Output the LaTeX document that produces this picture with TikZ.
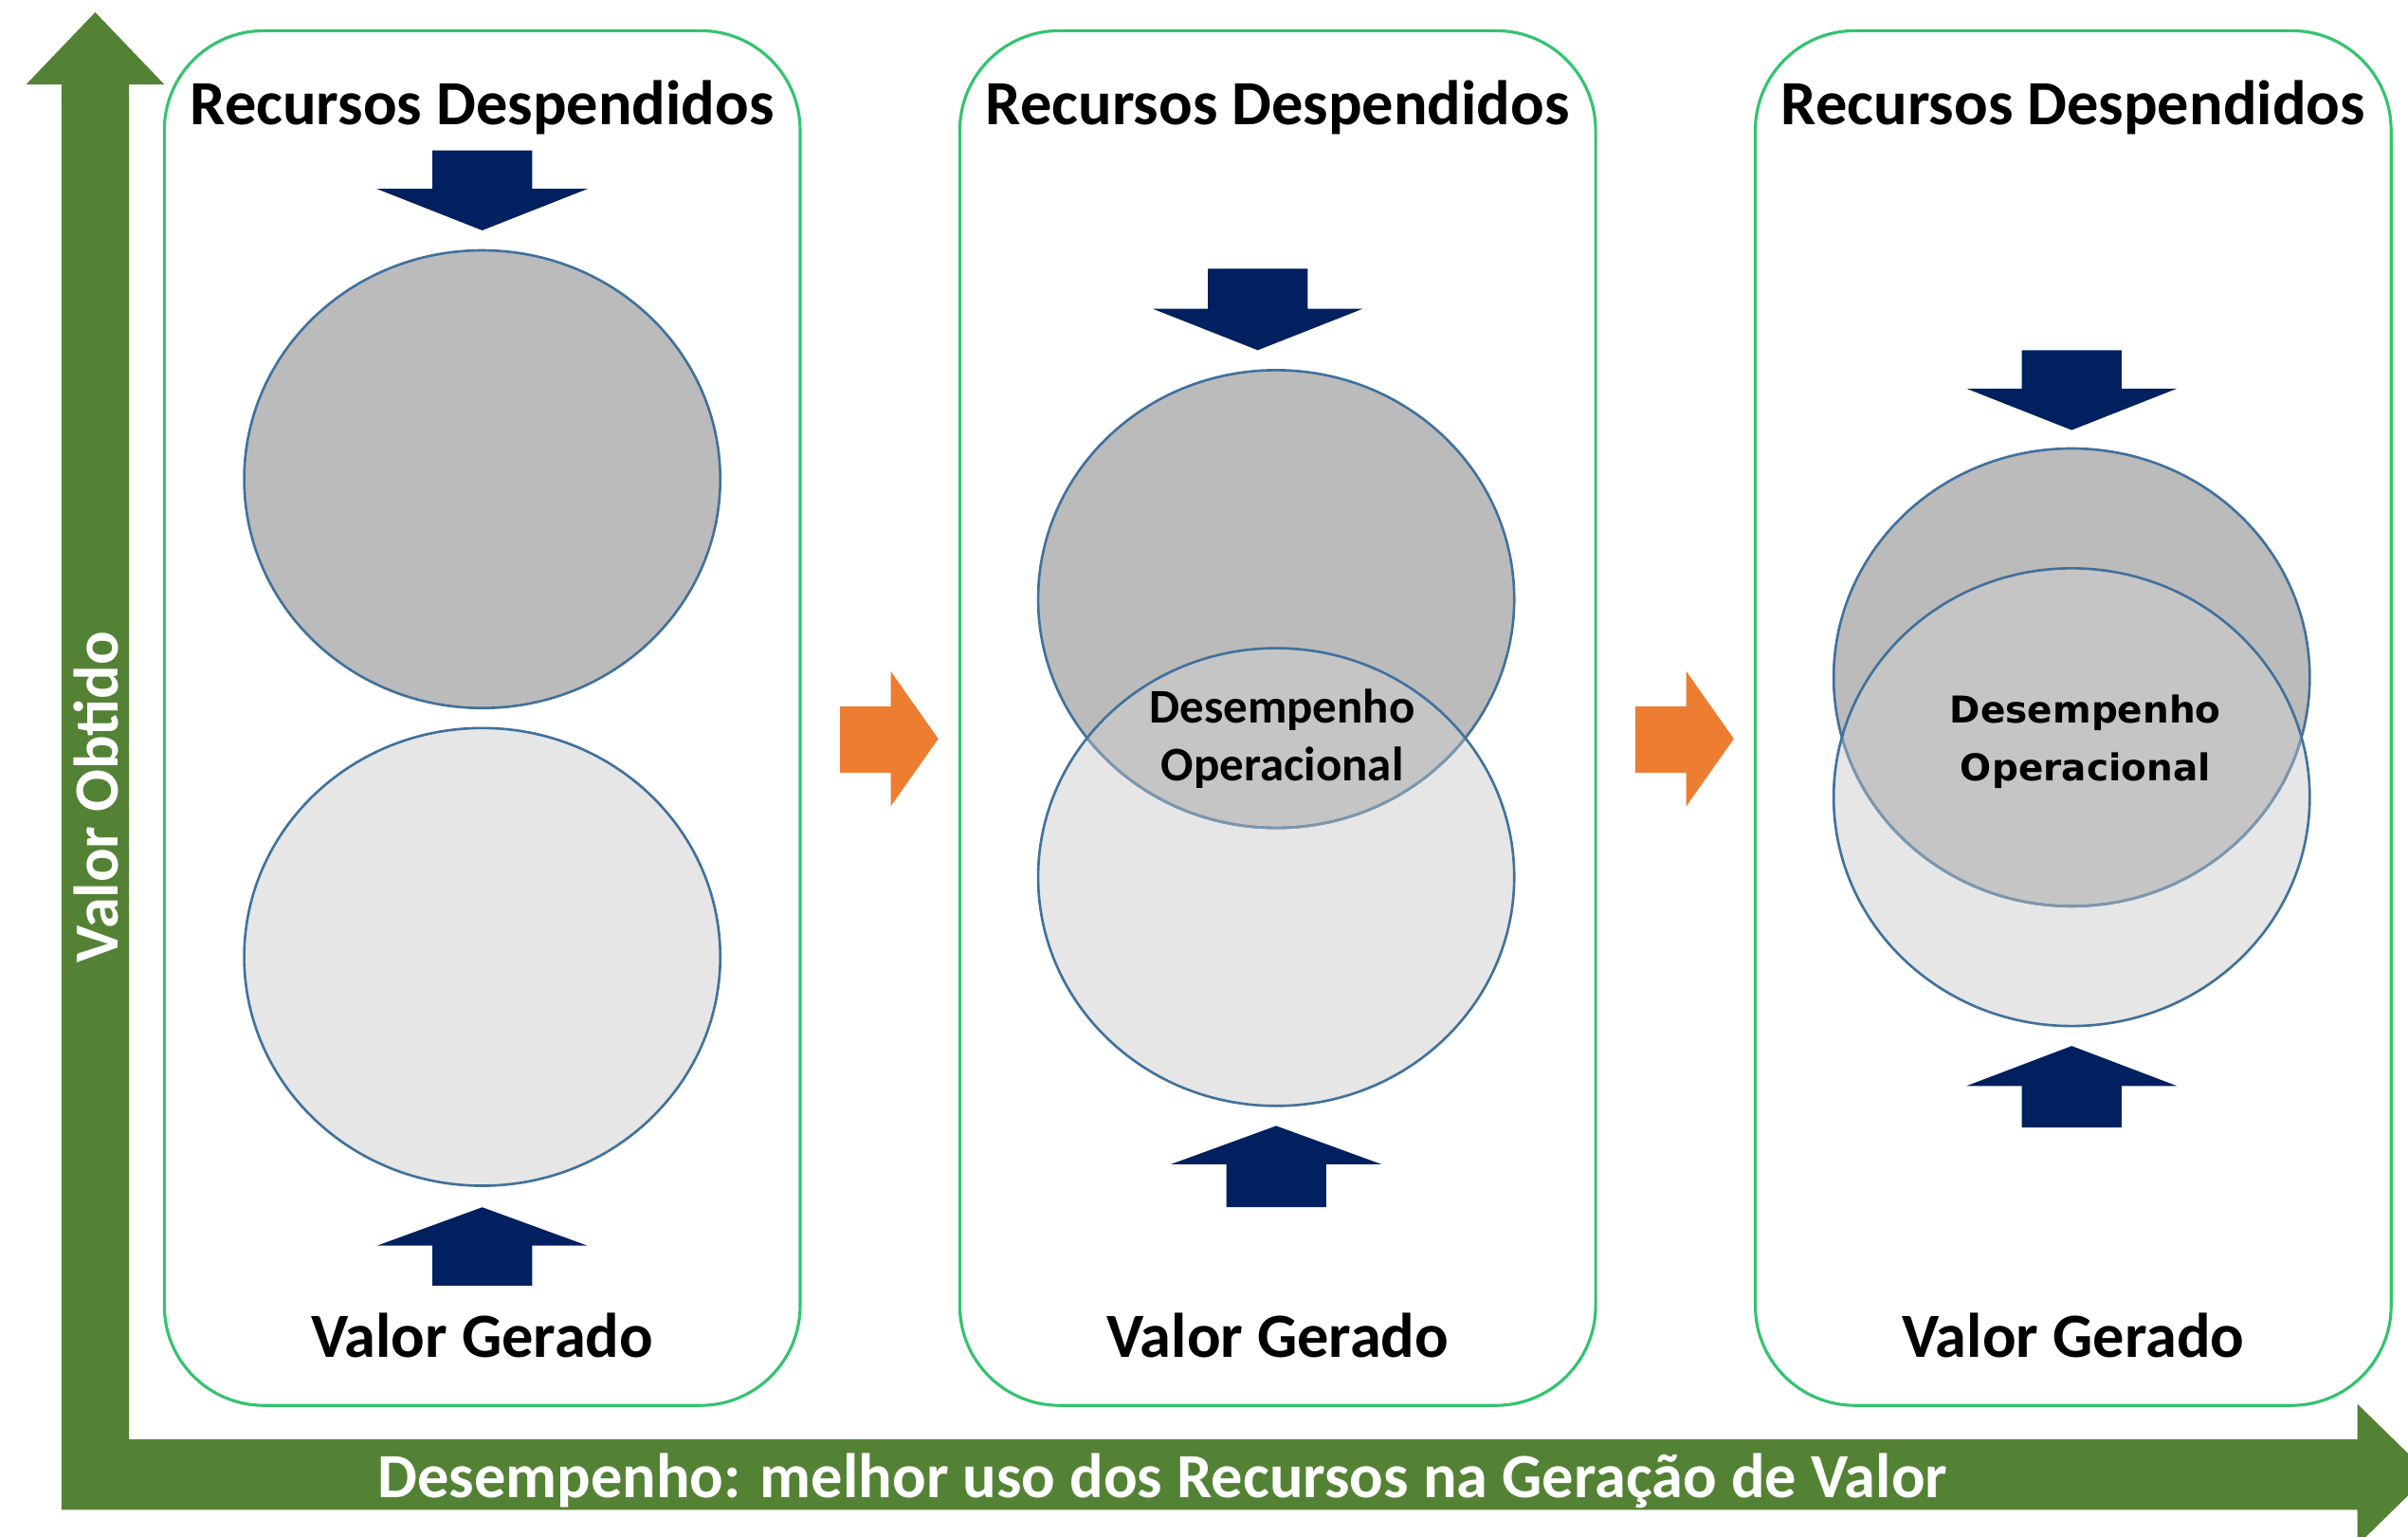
\documentclass[tikz,border=0pt]{standalone}
\usepackage{fontspec}
\setmainfont{Carlito}
\newfontfamily\verdana{DejaVu Sans}
\usepackage{xcolor}

\definecolor{axisgreen}{HTML}{548235}
\definecolor{framegreen}{HTML}{33C46E}
\definecolor{navy}{HTML}{002060}
\definecolor{flow}{HTML}{ED7D31}
\definecolor{ringblue}{HTML}{41719C}
\definecolor{darkgray}{HTML}{BBBBBB}
\definecolor{lightgray}{HTML}{E6E6E6}
\definecolor{midgray}{HTML}{C5C5C5}

\begin{document}
\begin{tikzpicture}[x=0.0162cm,y=-0.0162cm]
%style for panel frames
\tikzstyle{panel} = [draw=framegreen, line width=0.9pt, rounded corners=1.05cm]

%style for circles
\tikzstyle{spent} = [fill=darkgray]
\tikzstyle{made} = [fill=lightgray]
\tikzstyle{ring} = [draw=ringblue, line width=0.75pt]
\tikzstyle{faintring} = [draw=ringblue!55!midgray, line width=0.75pt]

%style for block arrows
\tikzstyle{press} = [fill=navy]
\tikzstyle{flowarrow} = [fill=flow]

%style for texts
\tikzstyle{heading} = [font=\bfseries\fontsize{18.9}{22}\selectfont, anchor=base, inner sep=0pt]
\tikzstyle{axislabel} = [font=\bfseries\fontsize{18.9}{22}\selectfont, text=white, anchor=base, inner sep=0pt]
\tikzstyle{inner} = [font=\bfseries\fontsize{14.5}{17.5}\selectfont, align=center, inner sep=0pt]

\useasboundingbox (0,0) rectangle (1568,1000.6);

%axes
\fill[axisgreen] (40,983) -- (40,55) -- (17,55) -- (62,8) -- (107,55) -- (84,55)
  -- (84,937) -- (1535,937) -- (1535,914) -- (1582,960) -- (1535,1006) -- (1535,983) -- cycle;
\node[axislabel, rotate=90] (yaxis) at (77,519) {Valor Obtido};
\node[axislabel] (xaxis) at (757,975) {Desempenho: melhor uso dos Recursos na Geração de Valor};

%panels
\draw[panel] (107,20) rectangle (521,915);
\draw[panel] (625,20) rectangle (1039,915);
\draw[panel] (1143,20) rectangle (1557,915);

%panel 1: apart
\fill[made] (314,623) ellipse [x radius=155, y radius=149];
\fill[spent] (314,312) ellipse [x radius=155, y radius=149];
\draw[ring] (314,623) ellipse [x radius=155, y radius=149];
\draw[ring] (314,312) ellipse [x radius=155, y radius=149];

%panel 2: touching
\fill[made] (831,571) ellipse [x radius=155, y radius=149];
\fill[spent] (831,390) ellipse [x radius=155, y radius=149];
\begin{scope}
\clip (831,390) ellipse [x radius=155, y radius=149];
\fill[midgray] (831,571) ellipse [x radius=155, y radius=149];
\end{scope}
\draw[ring] (831,390) ellipse [x radius=155, y radius=149];
\begin{scope}
\clip (831,571) ellipse [x radius=155, y radius=149];
\draw[faintring] (831,390) ellipse [x radius=155, y radius=149];
\end{scope}
\draw[ring] (831,571) ellipse [x radius=155, y radius=149];

%panel 3: nearly merged
\fill[made] (1349,519) ellipse [x radius=155, y radius=149];
\fill[spent] (1349,441) ellipse [x radius=155, y radius=149];
\begin{scope}
\clip (1349,441) ellipse [x radius=155, y radius=149];
\fill[midgray] (1349,519) ellipse [x radius=155, y radius=149];
\end{scope}
\draw[ring] (1349,441) ellipse [x radius=155, y radius=149];
\begin{scope}
\clip (1349,519) ellipse [x radius=155, y radius=149];
\draw[faintring] (1349,441) ellipse [x radius=155, y radius=149];
\end{scope}
\draw[ring] (1349,519) ellipse [x radius=155, y radius=149];

%place texts
\node[heading] (spent1) at (314,81) {Recursos Despendidos};
\node[heading] (spent2) at (832,81) {Recursos Despendidos};
\node[heading] (spent3) at (1350,81) {Recursos Despendidos};
\node[heading] (made1) at (314,884) {Valor Gerado};
\node[heading] (made2) at (832,884) {Valor Gerado};
\node[heading] (made3) at (1350,884) {Valor Gerado};
\node[inner] (perf2) at (835,481) {Desempenho\\Operacional};
\node[inner, font=\verdana\bfseries\fontsize{11.1}{17.5}\selectfont] (perf3) at (1358,483) {Desempenho\\Operacional};

%block arrows pressing on the circles
\fill[press] (314,150) -- ++(68.5,-27) -- ++(-36,0) -- ++(0,-25) -- ++(-65,0) -- ++(0,25) -- ++(-36,0) -- cycle;
\fill[press] (314,786) -- ++(68.5,25) -- ++(-36,0) -- ++(0,26) -- ++(-65,0) -- ++(0,-26) -- ++(-36,0) -- cycle;
\fill[press] (819,228) -- ++(68.5,-27) -- ++(-36,0) -- ++(0,-26) -- ++(-65,0) -- ++(0,26) -- ++(-36,0) -- cycle;
\fill[press] (831,733) -- ++(68.5,25) -- ++(-36,0) -- ++(0,28) -- ++(-65,0) -- ++(0,-28) -- ++(-36,0) -- cycle;
\fill[press] (1349,280) -- ++(68.5,-27) -- ++(-36,0) -- ++(0,-25) -- ++(-65,0) -- ++(0,25) -- ++(-36,0) -- cycle;
\fill[press] (1349,681) -- ++(68.5,26) -- ++(-36,0) -- ++(0,27) -- ++(-65,0) -- ++(0,-27) -- ++(-36,0) -- cycle;

%orange arrows between panels
\fill[flowarrow] (547,460) -- (580,460) -- (580,437) -- (611,481) -- (580,525) -- (580,503) -- (547,503) -- cycle;
\fill[flowarrow] (1065,460) -- (1098,460) -- (1098,437) -- (1129,481) -- (1098,525) -- (1098,503) -- (1065,503) -- cycle;
\end{tikzpicture}
\end{document}
